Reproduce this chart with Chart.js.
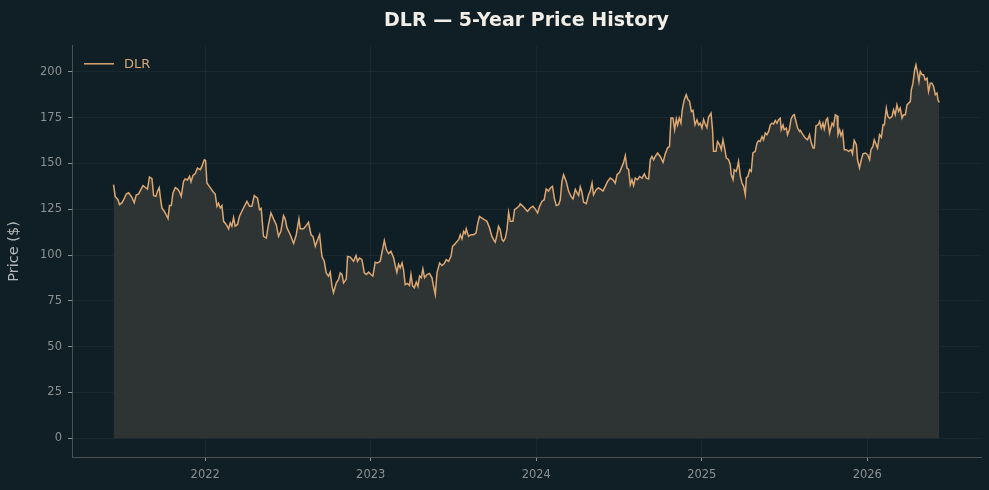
<!DOCTYPE html>
<html>
<head>
<meta charset="utf-8">
<script src="https://cdn.jsdelivr.net/npm/chart.js@4.4.1/dist/chart.umd.min.js"></script>
<style>
  html, body { margin: 0; padding: 0; background: #101f25; }
  #wrap { width: 989px; height: 490px; position: relative; }
</style>
</head>
<body>
<div id="wrap"><canvas id="myChart"></canvas></div>
<script>
// dates as decimal years
const years = [
  2021.446, 2021.456, 2021.473, 2021.482, 2021.497, 2021.506, 2021.523, 2021.537, 2021.557, 2021.571,
  2021.583, 2021.597, 2021.607, 2021.624, 2021.637, 2021.651, 2021.663, 2021.678, 2021.688, 2021.702,
  2021.712, 2021.722, 2021.728, 2021.738, 2021.752, 2021.764, 2021.775, 2021.784, 2021.795, 2021.805,
  2021.819, 2021.833, 2021.845, 2021.855, 2021.869, 2021.879, 2021.893, 2021.905, 2021.914, 2021.926,
  2021.940, 2021.953, 2021.970, 2021.980, 2021.994,
  2022.002, 2022.010, 2022.030, 2022.044, 2022.060, 2022.071, 2022.080, 2022.091, 2022.101, 2022.111,
  2022.127, 2022.141, 2022.151, 2022.161, 2022.171, 2022.181, 2022.195, 2022.207, 2022.231, 2022.252,
  2022.268, 2022.282, 2022.296, 2022.316, 2022.328, 2022.338, 2022.352, 2022.369, 2022.382, 2022.397,
  2022.413, 2022.429, 2022.443, 2022.457, 2022.473, 2022.483, 2022.494, 2022.514, 2022.534, 2022.550,
  2022.566, 2022.574, 2022.594, 2022.604, 2022.624, 2022.639, 2022.651, 2022.665, 2022.679, 2022.691,
  2022.705, 2022.719, 2022.731, 2022.745, 2022.755, 2022.766, 2022.775, 2022.792, 2022.805, 2022.816,
  2022.826, 2022.836, 2022.852, 2022.860, 2022.876, 2022.896, 2022.911, 2022.920, 2022.932, 2022.947,
  2022.961, 2022.973, 2022.987,
  2023.001, 2023.013, 2023.027, 2023.041, 2023.057, 2023.082, 2023.094, 2023.108, 2023.122, 2023.138,
  2023.148, 2023.158, 2023.168, 2023.178, 2023.189, 2023.198, 2023.208, 2023.222, 2023.234, 2023.243,
  2023.253, 2023.263, 2023.275, 2023.285, 2023.295, 2023.305, 2023.315, 2023.325, 2023.340, 2023.355,
  2023.370, 2023.379, 2023.390, 2023.400, 2023.416, 2023.430, 2023.444, 2023.456, 2023.470, 2023.485,
  2023.494, 2023.505, 2023.517, 2023.531, 2023.541, 2023.551, 2023.561, 2023.571, 2023.577, 2023.591,
  2023.605, 2023.621, 2023.636, 2023.645, 2023.657, 2023.672, 2023.686, 2023.702, 2023.718, 2023.732,
  2023.742, 2023.752, 2023.763, 2023.772, 2023.782, 2023.793, 2023.802, 2023.813, 2023.823, 2023.833,
  2023.843, 2023.859, 2023.869, 2023.883, 2023.899, 2023.903, 2023.920, 2023.934, 2023.947, 2023.964,
  2023.980, 2023.994,
  2024.008, 2024.020, 2024.034, 2024.048, 2024.060, 2024.074, 2024.085, 2024.098, 2024.109, 2024.121,
  2024.135, 2024.145, 2024.155, 2024.165, 2024.181, 2024.195, 2024.210, 2024.222, 2024.236, 2024.246,
  2024.256, 2024.266, 2024.276, 2024.286, 2024.302, 2024.316, 2024.326, 2024.337, 2024.346, 2024.363,
  2024.376, 2024.391, 2024.403, 2024.417, 2024.431, 2024.447, 2024.463, 2024.477, 2024.488, 2024.503,
  2024.518, 2024.527, 2024.538, 2024.548, 2024.558, 2024.568, 2024.578, 2024.588, 2024.598, 2024.612,
  2024.624, 2024.639, 2024.653, 2024.665, 2024.679, 2024.689, 2024.699, 2024.709, 2024.719, 2024.733,
  2024.749, 2024.766, 2024.779, 2024.793, 2024.805, 2024.814, 2024.826, 2024.836, 2024.846, 2024.854,
  2024.864, 2024.874, 2024.882, 2024.894, 2024.906, 2024.917, 2024.926, 2024.937, 2024.947, 2024.959,
  2024.971, 2024.981, 2024.991,
  2025.001, 2025.011, 2025.021, 2025.031, 2025.041, 2025.056, 2025.065, 2025.071, 2025.086, 2025.095,
  2025.108, 2025.118, 2025.128, 2025.138, 2025.148, 2025.162, 2025.172, 2025.178, 2025.189, 2025.196,
  2025.208, 2025.216, 2025.222, 2025.233, 2025.243, 2025.253, 2025.263, 2025.269, 2025.279, 2025.289,
  2025.299, 2025.309, 2025.323, 2025.334, 2025.343, 2025.353, 2025.364, 2025.373, 2025.384, 2025.394,
  2025.404, 2025.414, 2025.424, 2025.434, 2025.444, 2025.454, 2025.464, 2025.474, 2025.480, 2025.491,
  2025.498, 2025.511, 2025.518, 2025.529, 2025.539, 2025.549, 2025.559, 2025.569, 2025.579, 2025.591,
  2025.595, 2025.611, 2025.625, 2025.639, 2025.651, 2025.662, 2025.672, 2025.680, 2025.690, 2025.702,
  2025.712, 2025.722, 2025.732, 2025.740, 2025.752, 2025.760, 2025.772, 2025.787, 2025.796, 2025.807,
  2025.817, 2025.823, 2025.833, 2025.841, 2025.851, 2025.861, 2025.873, 2025.887, 2025.902, 2025.911,
  2025.921, 2025.934, 2025.941, 2025.953, 2025.964, 2025.974, 2025.988,
  2026.002, 2026.014, 2026.022, 2026.034, 2026.042, 2026.054, 2026.062, 2026.074, 2026.085, 2026.095,
  2026.103, 2026.115, 2026.125, 2026.135, 2026.149, 2026.159, 2026.169, 2026.179, 2026.189, 2026.199,
  2026.210, 2026.219, 2026.230, 2026.240, 2026.250, 2026.260, 2026.266, 2026.276, 2026.286, 2026.294,
  2026.304, 2026.312, 2026.320, 2026.331, 2026.340, 2026.350, 2026.361, 2026.370, 2026.381, 2026.391,
  2026.401, 2026.411, 2026.421, 2026.427, 2026.435
];

const prices = [
  138.4, 132.0, 130.2, 127.5, 128.6, 130.0, 133.3, 134.0, 131.5, 128.6,
  132.8, 133.3, 135.0, 137.9, 137.0, 136.0, 142.6, 141.7, 132.4, 132.0,
  135.0, 136.8, 132.0, 125.7, 123.9, 122.0, 119.9, 127.0, 127.0, 133.9,
  136.8, 136.0, 134.4, 132.0, 140.2, 141.5, 141.0, 143.0, 140.0, 143.4,
  144.5, 147.5, 146.6, 148.4, 152.0,
  151.6, 139.3, 136.8, 135.0, 133.3, 126.6, 128.3, 125.7, 127.0, 118.4,
  116.7, 114.3, 117.6, 115.8, 120.4, 115.8, 116.7, 121.2, 125.7, 129.3,
  126.6, 126.6, 132.4, 131.0, 124.8, 125.5, 110.2, 109.3, 116.6, 123.0,
  119.7, 116.6, 110.2, 113.0, 121.5, 119.7, 114.8, 111.1, 106.3, 111.1,
  119.7, 114.3, 114.3, 115.4, 117.9, 111.1, 110.2, 104.8, 108.4, 111.1,
  99.3, 96.6, 90.3, 88.5, 90.7, 83.0, 79.4, 84.8, 86.6, 90.3,
  89.4, 84.8, 86.9, 99.3, 98.9, 96.6, 99.7, 96.6, 98.4, 97.5,
  90.3, 89.4, 90.7,
  89.4, 88.5, 96.1, 95.7, 96.6, 107.9, 103.0, 100.8, 102.0, 98.5,
  94.3, 90.6, 95.0, 93.0, 95.7, 92.1, 83.9, 84.5, 83.4, 89.4,
  83.1, 82.1, 85.2, 83.0, 88.5, 87.6, 92.5, 87.6, 89.4, 90.0,
  87.6, 83.1, 78.5, 90.3, 95.7, 94.3, 95.4, 97.5, 96.6, 99.3,
  104.8, 105.7, 107.0, 108.4, 111.1, 108.8, 113.0, 111.7, 114.3, 110.2,
  111.1, 111.1, 112.0, 116.6, 121.1, 120.2, 119.3, 118.4, 114.8, 110.2,
  108.4, 107.0, 111.1, 115.7, 113.9, 108.4, 107.5, 109.3, 113.9, 123.3,
  118.4, 118.4, 124.8, 125.7, 127.0, 128.0, 126.6, 125.1, 123.9, 125.7,
  126.6, 125.1,
  123.0, 126.6, 129.3, 130.2, 136.1, 134.9, 136.6, 137.5, 131.1, 127.0,
  127.5, 130.2, 140.2, 143.9, 140.2, 134.9, 132.0, 130.7, 135.8, 134.0,
  132.5, 137.2, 134.3, 128.8, 128.1, 132.9, 134.9, 139.3, 132.9, 135.8,
  136.6, 135.8, 134.9, 137.5, 140.2, 142.0, 141.1, 139.3, 143.9, 145.1,
  148.4, 150.3, 154.2, 147.5, 146.6, 138.4, 141.1, 138.0, 142.0, 141.1,
  142.9, 142.0, 144.3, 142.0, 141.5, 152.0, 153.8, 152.0, 153.8, 155.7,
  153.8, 150.6, 155.1, 158.4, 159.3, 174.8, 174.8, 168.4, 174.2, 171.0,
  174.8, 172.0, 179.3, 184.7, 187.5, 184.7, 184.0, 178.4, 179.0, 171.1,
  173.8, 171.0, 172.0,
  169.3, 174.0, 171.5, 169.5, 175.3, 177.4, 168.4, 156.6, 156.6, 162.0,
  160.2, 157.5, 163.0, 158.4, 153.0, 152.0, 149.3, 143.9, 141.1, 146.6,
  145.7, 148.4, 151.1, 143.0, 139.3, 137.5, 133.0, 142.1, 143.0, 146.6,
  145.7, 155.7, 156.6, 161.1, 162.4, 162.0, 164.7, 162.9, 166.6, 165.7,
  167.5, 171.1, 172.0, 171.5, 173.4, 172.0, 173.9, 174.7, 168.4, 171.0,
  168.4, 169.3, 165.7, 168.4, 174.0, 176.0, 176.6, 172.9, 169.3, 167.5,
  168.0, 165.7, 163.9, 162.9, 165.7, 161.1, 158.4, 158.4, 170.6, 171.0,
  172.9, 169.3, 172.0, 168.8, 173.8, 174.7, 166.6, 172.0, 170.6, 176.6,
  176.0, 165.7, 168.4, 165.2, 167.5, 157.5, 157.5, 156.6, 157.5, 155.2,
  162.6, 160.2, 152.0, 147.5, 152.0, 155.2, 155.7,
  154.8, 152.0, 157.5, 159.3, 162.9, 160.2, 158.4, 165.7, 164.3, 171.1,
  171.0, 180.2, 175.6, 174.7, 175.6, 179.3, 176.6, 182.0, 178.4, 180.2,
  174.7, 176.6, 176.6, 182.0, 182.9, 183.8, 190.2, 193.8, 201.1, 203.8,
  199.3, 194.7, 200.2, 198.4, 198.4, 195.6, 196.5, 189.3, 193.8, 193.8,
  191.9, 187.5, 188.4, 184.7, 183.3
];

const yearTicks = [2022, 2023, 2024, 2025, 2026];
const priceTicks = [0, 25, 50, 75, 100, 125, 150, 175, 200];

const points = years.map((x, i) => ({ x: x, y: prices[i] }));

const tickColor = "#8b9193";
const gridColor = "rgba(255,255,255,0.045)";
const spineColor = "#4b5153";
const lineColor = "#dda772";

// legend drawn inside the plot, top-left (like the original)
const insideLegend = {
  id: "insideLegend",
  afterDatasetsDraw(chart) {
    const { ctx, chartArea } = chart;
    const ds = chart.data.datasets[0];
    const y = chartArea.top + 18;
    const x0 = chartArea.left + 12;
    ctx.save();
    ctx.strokeStyle = ds.borderColor;
    ctx.lineWidth = 1.5;
    ctx.beginPath();
    ctx.moveTo(x0, y);
    ctx.lineTo(x0 + 30, y);
    ctx.stroke();
    ctx.fillStyle = "#d6a677";
    ctx.font = "13px 'DejaVu Sans'";
    ctx.textBaseline = "middle";
    ctx.fillText(ds.label, x0 + 40, y + 1);
    ctx.restore();
  },
};

const canvasArea = document.getElementById("myChart").getContext("2d");

const data = {
  datasets: [
    {
      label: "DLR",
      data: points,
      borderColor: lineColor,
      borderWidth: 1.5,
      backgroundColor: "#2e3333",
      fill: "origin",
      pointRadius: 0,
      pointHoverRadius: 0,
      tension: 0,
    },
  ],
};

const config = {
  type: "line",
  data: data,
  plugins: [insideLegend],
  options: {
    responsive: true,
    maintainAspectRatio: false,
    animation: false,
    events: [],
    layout: { padding: { left: 0, right: 8, top: 0, bottom: 0 } },
    plugins: {
      title: {
        display: true,
        text: "DLR \u2014 5-Year Price History",
        color: "#f1eee8",
        fullSize: false,
        font: { family: "DejaVu Sans", size: 19, weight: "bold" },
        padding: { top: 10, bottom: 13 },
      },
      legend: { display: false },
      tooltip: { enabled: false },
    },
    scales: {
      x: {
        type: "linear",
        min: 2021.195,
        max: 2026.687,
        afterBuildTicks: (axis) => {
          axis.ticks = yearTicks.map((v) => ({ value: v }));
        },
        afterFit: (axis) => {
          axis.height = 33;
        },
        ticks: {
          color: tickColor,
          padding: 7,
          maxRotation: 0,
          font: { family: "DejaVu Sans", size: 11.5 },
          callback: (v) => String(v),
        },
        grid: {
          color: gridColor,
          tickColor: tickColor,
          tickLength: 4,
        },
        border: { color: spineColor, width: 1 },
      },
      y: {
        type: "linear",
        min: -10.2,
        max: 214.2,
        afterBuildTicks: (axis) => {
          axis.ticks = priceTicks.map((v) => ({ value: v }));
        },
        afterFit: (axis) => {
          axis.width = 72;
        },
        title: {
          display: true,
          text: "Price ($)",
          color: "#b3b8b9",
          font: { family: "DejaVu Sans", size: 14.5 },
          padding: { top: 6, bottom: 0 },
        },
        ticks: {
          color: tickColor,
          padding: 6,
          font: { family: "DejaVu Sans", size: 11.5 },
          callback: (v) => String(v),
        },
        grid: {
          color: gridColor,
          tickColor: tickColor,
          tickLength: 4,
        },
        border: { color: spineColor, width: 1 },
      },
    },
  },
};

const myChartOne = new Chart(canvasArea, config);
</script>
</body>
</html>
